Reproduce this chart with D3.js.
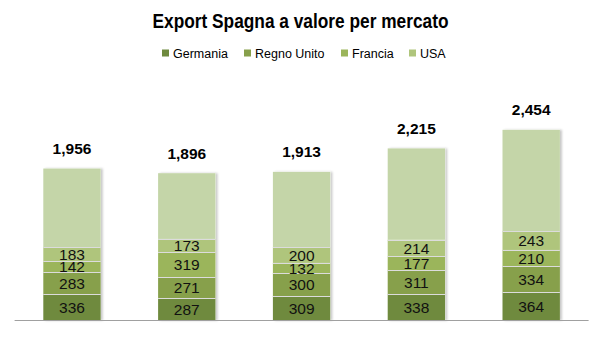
<!DOCTYPE html>
<html><head><meta charset="utf-8">
<script src="https://cdn.jsdelivr.net/npm/d3@7"></script>
<style>
html,body{margin:0;padding:0;background:#fff;}
svg{display:block;}
</style></head>
<body>
<svg id="chart" width="601" height="356"></svg>
<script>
const categories = ["P1","P2","P3","P4","P5"];
const germania = [336, 287, 309, 338, 364];
const regnoUnito = [283, 271, 300, 311, 334];
const francia = [142, 319, 132, 177, 210];
const usa = [183, 173, 200, 214, 243];
const altri = [1012, 846, 972, 1175, 1303];
const totals = [1956, 1896, 1913, 2215, 2454];
const seriesNames = ["Germania","Regno Unito","Francia","USA","Altri"];
const legendNames = ["Germania","Regno Unito","Francia","USA"];
const colors = ["#6f8a3e","#87a04b","#9bb55b","#afc57c","#c4d5a8"];

const svg = d3.select("#chart");
const W = 601, H = 356;

const defs = svg.append("defs");
const f = defs.append("filter").attr("id","sh").attr("x","-10%").attr("y","-5%").attr("width","130%").attr("height","110%");
f.append("feDropShadow").attr("dx",2).attr("dy",0).attr("stdDeviation",1.2).attr("flood-color","#000").attr("flood-opacity",0.22);

svg.append("text").attr("x", W/2).attr("y", 27.5).attr("text-anchor","middle")
  .style("font-family","'Liberation Sans',Arial,sans-serif")
  .style("font-weight","bold").style("font-size","20px").attr("fill","#000")
  .attr("textLength", 296).attr("lengthAdjust","spacingAndGlyphs")
  .text("Export Spagna a valore per mercato");

// legend
const legendX = [162, 244, 341, 409];
const lg = svg.append("g");
legendNames.forEach((n,i)=>{
  lg.append("rect").attr("x",legendX[i]).attr("y",49.5).attr("width",7).attr("height",7).attr("fill",colors[i]);
  lg.append("text").attr("x",legendX[i]+11).attr("y",57.5)
    .style("font-family","'Liberation Sans',Arial,sans-serif").style("font-size","12.5px").attr("fill","#000").text(n);
});

const data = categories.map((c,i)=>({cat:c, Germania:germania[i], "Regno Unito":regnoUnito[i], Francia:francia[i], USA:usa[i], Altri:altri[i], total:totals[i]}));
const stack = d3.stack().keys(seriesNames)(data);

const x = d3.scaleBand().domain(categories).range([14.6, 588.6]).paddingInner(0.5).paddingOuter(0.25);
const y = d3.scaleLinear().domain([0, 3000]).range([320.5, 87.4]);

const barsG = svg.append("g");
categories.forEach((c,i)=>{
  barsG.append("rect").attr("x", x(c)).attr("y", y(totals[i])).attr("width", x.bandwidth())
    .attr("height", y(0)-y(totals[i])).attr("fill","#fff").attr("filter","url(#sh)");
});

stack.forEach((s,si)=>{
  const g = svg.append("g");
  g.selectAll("rect").data(s).join("rect")
    .attr("x", d=>x(d.data.cat)).attr("y", d=>y(d[1])).attr("width", x.bandwidth())
    .attr("height", d=>y(d[0])-y(d[1])).attr("fill", colors[si]);
});
// separators
stack.slice(0,4).forEach((s)=>{
  svg.append("g").selectAll("line").data(s).join("line")
    .attr("x1", d=>x(d.data.cat)).attr("x2", d=>x(d.data.cat)+x.bandwidth())
    .attr("y1", d=>Math.round(y(d[1]))+0.5).attr("y2", d=>Math.round(y(d[1]))+0.5)
    .attr("stroke","#dcdcdc").attr("stroke-width",1.2);
});

// segment labels
stack.slice(0,4).forEach((s)=>{
  svg.append("g").selectAll("text").data(s).join("text")
    .attr("x", d=>x(d.data.cat)+x.bandwidth()/2)
    .attr("y", d=>(y(d[0])+y(d[1]))/2 + 5.5)
    .attr("text-anchor","middle")
    .style("font-family","'Liberation Sans',Arial,sans-serif").style("font-size","15.5px").attr("fill","#111")
    .text(d=>d[1]-d[0]);
});

// axis line
svg.append("line").attr("x1",14.6).attr("x2",588.6).attr("y1",320.5).attr("y2",320.5).attr("stroke","#a0a0a0").attr("stroke-width",1);

// totals
const fmt = d3.format(",");
svg.append("g").selectAll("text").data(data).join("text")
  .attr("x", d=>x(d.cat)+x.bandwidth()/2).attr("y", d=>y(d.total)-14.5)
  .attr("text-anchor","middle")
  .style("font-family","'Liberation Sans',Arial,sans-serif").style("font-weight","bold").style("font-size","15.5px").attr("fill","#000")
  .text(d=>fmt(d.total));
</script>
</body></html>
